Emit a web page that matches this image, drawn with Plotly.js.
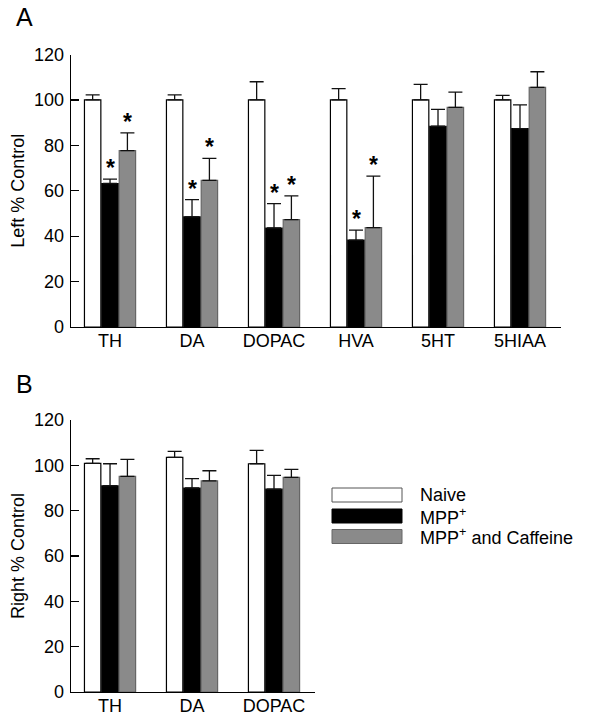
<!DOCTYPE html>
<html>
<head>
<meta charset="utf-8">
<script src="https://cdn.plot.ly/plotly-3.0.1.min.js"></script>
<style>html,body{margin:0;padding:0;background:#fff;}#chart{width:595px;height:720px;}</style>
</head>
<body>
<div id="chart"></div>
<script>
// ---- Data ----
const categoriesA = ["TH", "DA", "DOPAC", "HVA", "5HT", "5HIAA"];
const categoriesB = ["TH", "DA", "DOPAC"];
const seriesNames = ["Naive", "MPP<sup>+</sup>", "MPP<sup>+</sup> and Caffeine"];

// Panel A: Left % Control
const leftNaive     = [100, 100, 100, 100, 100, 100];
const leftNaiveErr  = [2.2, 2.2, 8.0, 5.0, 6.8, 2.0];
const leftMPP       = [63.2, 48.5, 43.6, 38.3, 88.4, 87.4];
const leftMPPErr    = [1.9, 7.6, 10.7, 4.4, 7.4, 10.4];
const leftCaff      = [77.7, 64.6, 47.3, 43.8, 96.7, 105.5];
const leftCaffErr   = [7.8, 9.7, 10.4, 22.6, 6.7, 6.9];
const leftMPPSig    = [true, true, true, true, false, false];
const leftCaffSig   = [true, true, true, true, false, false];

// Panel B: Right % Control
const rightNaive    = [100.9, 103.5, 100.7];
const rightNaiveErr = [2.0, 2.7, 5.9];
const rightMPP      = [91.0, 90.0, 89.5];
const rightMPPErr   = [9.7, 4.1, 6.1];
const rightCaff     = [95.1, 93.1, 94.7];
const rightCaffErr  = [7.5, 4.5, 3.5];

const yTicks = [0, 20, 40, 60, 80, 100, 120];

// ---- Styling ----
const FONT = "Liberation Sans, Arial, Helvetica, sans-serif";
const W = 595, H = 720, ML = 71;
const px = x => (x - ML) / (W - ML);
const py = y => 1 - y / H;

const barW = 0.2;
const centers = [-0.212, 0, 0.212];
const fills = ["#ffffff", "#000000", "#8a8a8a"];
const lines = ["#000000", "#000000", "#666666"];

function barTrace(cats, vals, errs, k, xa, ya) {
  return {
    type: "bar",
    x: cats.map((c, i) => i),
    y: vals,
    width: barW,
    offset: centers[k] - barW / 2,
    xaxis: xa, yaxis: ya,
    marker: {color: fills[k], line: {color: lines[k], width: 1.2}},
    error_y: {type: "data", symmetric: false, array: errs, arrayminus: vals.map(() => 0),
              color: "#111", thickness: 1.3, width: 7},
    showlegend: false,
    hoverinfo: "skip"
  };
}

const data = [
  barTrace(categoriesA, leftNaive, leftNaiveErr, 0, "x", "y"),
  barTrace(categoriesA, leftMPP, leftMPPErr, 1, "x", "y"),
  barTrace(categoriesA, leftCaff, leftCaffErr, 2, "x", "y"),
  barTrace(categoriesB, rightNaive, rightNaiveErr, 0, "x2", "y2"),
  barTrace(categoriesB, rightMPP, rightMPPErr, 1, "x2", "y2"),
  barTrace(categoriesB, rightCaff, rightCaffErr, 2, "x2", "y2")
];

const annotations = [];
function stars(vals, errs, sig, k) {
  vals.forEach((v, i) => {
    if (!sig[i]) return;
    annotations.push({
      xref: "x", yref: "y", x: i + centers[k], y: v + errs[i],
      text: "<b>*</b>", showarrow: false, yanchor: "bottom", xanchor: "center",
      yshift: -4,
      font: {family: FONT, size: 23, color: "#000"}
    });
  });
}
stars(leftMPP, leftMPPErr, leftMPPSig, 1);
stars(leftCaff, leftCaffErr, leftCaffSig, 2);

// Panel letters
annotations.push({xref: "paper", yref: "paper", x: px(14), y: py(17), text: "A",
  showarrow: false, xanchor: "left", yanchor: "middle", font: {family: FONT, size: 25, color: "#000"}});
annotations.push({xref: "paper", yref: "paper", x: px(14), y: py(384), text: "B",
  showarrow: false, xanchor: "left", yanchor: "middle", font: {family: FONT, size: 25, color: "#000"}});

// Legend (drawn manually)
const shapes = [];
const legendRows = [495, 516, 536.5];
seriesNames.forEach((name, k) => {
  shapes.push({type: "rect", xref: "paper", yref: "paper",
    x0: px(332), x1: px(402), y0: py(legendRows[k] - 7), y1: py(legendRows[k] + 7),
    fillcolor: fills[k], line: {color: k === 0 ? "#555" : lines[k], width: 1}});
  annotations.push({xref: "paper", yref: "paper", x: px(418), y: py(legendRows[k]),
    text: name, showarrow: false, xanchor: "left", yanchor: "middle",
    font: {family: FONT, size: 18, color: "#000"}});
});

const yAxisBase = {
  range: [0, 120], tickvals: yTicks, ticks: "inside", ticklen: 8, tickwidth: 1.3,
  tickcolor: "#000", showline: true, linewidth: 1.3, linecolor: "#000",
  showgrid: false, zeroline: false, tickfont: {family: FONT, size: 18, color: "#000"},
  ticklabelstandoff: 2
};
const xAxisBase = {
  showline: true, linewidth: 1.3, linecolor: "#000", ticks: "", showgrid: false,
  zeroline: false, tickfont: {family: FONT, size: 18, color: "#000"},
  ticklabelstandoff: -3
};

const layout = {
  width: W, height: H,
  margin: {l: ML, r: 0, t: 0, b: 0},
  paper_bgcolor: "#fff", plot_bgcolor: "#fff",
  barmode: "overlay",
  showlegend: false,
  xaxis: Object.assign({}, xAxisBase, {
    domain: [0, px(561)], range: [-0.476, 5.5], anchor: "y",
    tickvals: categoriesA.map((c, i) => i), ticktext: categoriesA
  }),
  yaxis: Object.assign({}, yAxisBase, {
    domain: [py(327), py(54.5)], anchor: "x",
    title: {text: "Left % Control", font: {family: FONT, size: 18, color: "#000"}, standoff: 4}
  }),
  xaxis2: Object.assign({}, xAxisBase, {
    domain: [0, px(315)], range: [-0.476, 2.5], anchor: "y2",
    tickvals: categoriesB.map((c, i) => i), ticktext: categoriesB
  }),
  yaxis2: Object.assign({}, yAxisBase, {
    domain: [py(692), py(420)], anchor: "x2",
    title: {text: "Right % Control", font: {family: FONT, size: 18, color: "#000"}, standoff: 4}
  }),
  annotations: annotations,
  shapes: shapes
};

Plotly.newPlot("chart", data, layout, {staticPlot: true, displayModeBar: false});
</script>
</body>
</html>
